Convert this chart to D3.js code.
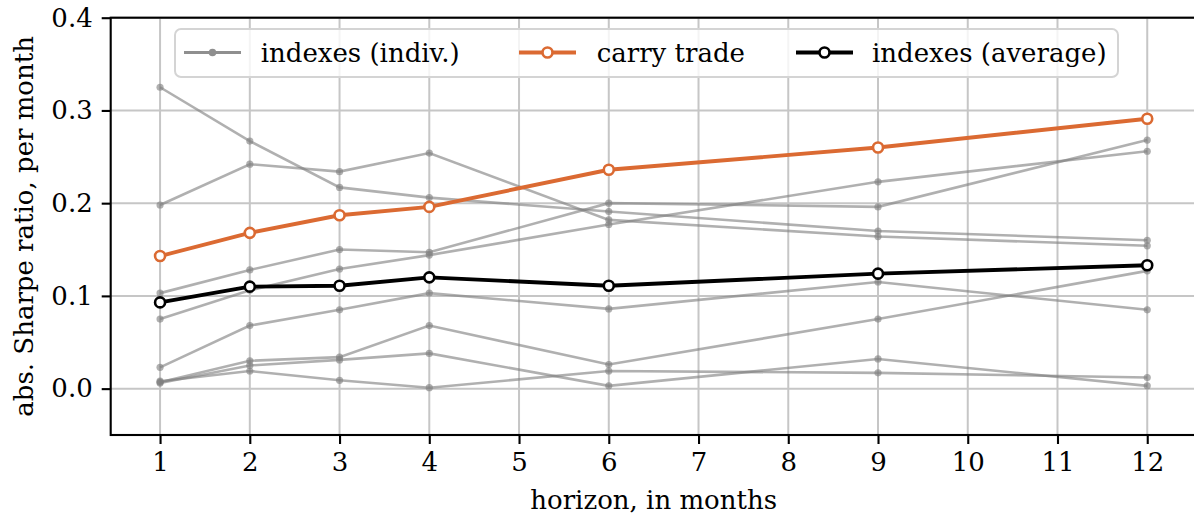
<!DOCTYPE html>
<html>
<head>
<meta charset="utf-8">
<script src="https://cdn.jsdelivr.net/npm/d3@7"></script>
<style>
  html, body { margin: 0; padding: 0; background: #fff; }
  svg { display: block; font-family: "DejaVu Serif", serif; }
</style>
</head>
<body>
<svg id="chart" width="1194" height="518"></svg>
<script>
// Horizons (months) at which the Sharpe ratios are measured
const horizons = [1, 2, 3, 4, 6, 9, 12];

// Individual index series, absolute Sharpe ratio per month
const indexA = [0.325, 0.267, 0.217, 0.206, 0.191, 0.170, 0.160];
const indexB = [0.198, 0.242, 0.234, 0.254, 0.182, 0.164, 0.154];
const indexC = [0.103, 0.128, 0.150, 0.147, 0.200, 0.196, 0.268];
const indexD = [0.075, 0.106, 0.129, 0.144, 0.177, 0.223, 0.256];
const indexE = [0.023, 0.068, 0.085, 0.103, 0.086, 0.115, 0.085];
const indexF = [0.007, 0.030, 0.034, 0.068, 0.026, 0.075, 0.127];
const indexG = [0.006, 0.025, 0.031, 0.038, 0.003, 0.032, 0.003];
const indexH = [0.008, 0.019, 0.009, 0.001, 0.019, 0.017, 0.012];

// Carry trade and the average over indexes
const carryTrade = [0.143, 0.168, 0.187, 0.196, 0.236, 0.260, 0.291];
const indexAverage = [0.093, 0.110, 0.111, 0.120, 0.111, 0.124, 0.133];

// Axis ticks
const xTicks = [1, 2, 3, 4, 5, 6, 7, 8, 9, 10, 11, 12];
const yTicks = [0.0, 0.1, 0.2, 0.3, 0.4];

const legendLabels = ["indexes (indiv.)", "carry trade", "indexes (average)"];

const individual = [indexA, indexB, indexC, indexD, indexE, indexF, indexG, indexH];

const svg = d3.select("#chart");
const plotLeft = 110.7, plotRight = 1196.6, plotTop = 17.7, plotBottom = 435;

const x = d3.scaleLinear().domain([0.45, 12.55]).range([plotLeft, plotRight]);
const y = d3.scaleLinear().domain([-0.05, 0.4]).range([plotBottom, plotTop]);

const ORANGE = "#db6a32";
const FONT = 26;

// grid
const grid = svg.append("g");
grid.selectAll(".gx").data(xTicks).join("line")
  .attr("x1", d => x(d)).attr("x2", d => x(d))
  .attr("y1", plotTop).attr("y2", plotBottom)
  .attr("stroke", "#c6c6c6").attr("stroke-width", 2);
grid.selectAll(".gy").data(yTicks).join("line")
  .attr("x1", plotLeft).attr("x2", plotRight)
  .attr("y1", d => y(d)).attr("y2", d => y(d))
  .attr("stroke", "#c6c6c6").attr("stroke-width", 2);

const line = d3.line().x((d, i) => x(horizons[i])).y(d => y(d));

// individual indexes
const indiv = svg.append("g");
individual.forEach(s => {
  indiv.append("path").datum(s)
    .attr("d", line)
    .attr("fill", "none")
    .attr("stroke", "#808080")
    .attr("stroke-opacity", 0.62)
    .attr("stroke-width", 2.6);
  indiv.selectAll(null).data(s).join("circle")
    .attr("cx", (d, i) => x(horizons[i]))
    .attr("cy", d => y(d))
    .attr("r", 3.6)
    .attr("fill", "#808080")
    .attr("fill-opacity", 0.62);
});

// carry trade and average with hollow markers
function drawMain(series, color) {
  const g = svg.append("g");
  g.append("path").datum(series)
    .attr("d", line)
    .attr("fill", "none")
    .attr("stroke", color)
    .attr("stroke-width", 3.9)
    .attr("stroke-linejoin", "round");
  g.selectAll("circle").data(series).join("circle")
    .attr("cx", (d, i) => x(horizons[i]))
    .attr("cy", d => y(d))
    .attr("r", 5)
    .attr("fill", "#fff")
    .attr("stroke", color)
    .attr("stroke-width", 2.6);
}
drawMain(carryTrade, ORANGE);
drawMain(indexAverage, "#000");

// axes
const xAxis = svg.append("g")
  .attr("transform", `translate(0,${plotBottom})`)
  .call(d3.axisBottom(x).tickValues(xTicks).tickFormat(d3.format("d")).tickSize(9).tickPadding(9));
const yAxis = svg.append("g")
  .attr("transform", `translate(${plotLeft},0)`)
  .call(d3.axisLeft(y).tickValues(yTicks).tickFormat(d3.format(".1f")).tickSize(9).tickPadding(9));
[xAxis, yAxis].forEach(a => {
  a.select(".domain").remove();
  a.selectAll(".tick line").attr("stroke", "#000").attr("stroke-width", 2.1);
  a.selectAll(".tick text").attr("font-family", "DejaVu Serif").attr("font-size", FONT).attr("fill", "#000");
});

// spines (left, top, bottom; the right edge falls outside the canvas)
svg.append("rect")
  .attr("x", plotLeft).attr("y", plotTop)
  .attr("width", plotRight - plotLeft).attr("height", plotBottom - plotTop)
  .attr("fill", "none").attr("stroke", "#000").attr("stroke-width", 2.1);

// axis titles
svg.append("text")
  .attr("x", (plotLeft + plotRight) / 2).attr("y", 509)
  .attr("text-anchor", "middle").attr("font-size", FONT)
  .text("horizon, in months");
svg.append("text")
  .attr("transform", `translate(33,${(plotTop + plotBottom) / 2}) rotate(-90)`)
  .attr("text-anchor", "middle").attr("font-size", FONT)
  .text("abs. Sharpe ratio, per month");

// legend
const legend = svg.append("g");
legend.append("rect")
  .attr("x", 175).attr("y", 29).attr("width", 943).attr("height", 48)
  .attr("rx", 6).attr("ry", 6)
  .attr("fill", "#fff").attr("fill-opacity", 0.8)
  .attr("stroke", "#d4d4d4").attr("stroke-width", 2);

const legendItems = [
  { label: legendLabels[0], x0: 184, tx: 260.7, color: "#8f8f8f", type: "dot" },
  { label: legendLabels[1], x0: 519, tx: 596.7, color: ORANGE, type: "ring" },
  { label: legendLabels[2], x0: 796, tx: 872, color: "#000", type: "ring" }
];
const ly = 52.5;
legendItems.forEach(it => {
  legend.append("line")
    .attr("x1", it.x0).attr("x2", it.x0 + 57)
    .attr("y1", ly).attr("y2", ly)
    .attr("stroke", it.color).attr("stroke-width", it.type === "dot" ? 2.8 : 3.9);
  if (it.type === "dot") {
    legend.append("circle").attr("cx", it.x0 + 28.5).attr("cy", ly).attr("r", 3.8)
      .attr("fill", it.color);
  } else {
    legend.append("circle").attr("cx", it.x0 + 28.5).attr("cy", ly).attr("r", 5)
      .attr("fill", "#fff").attr("stroke", it.color).attr("stroke-width", 2.6);
  }
  legend.append("text")
    .attr("x", it.tx).attr("y", ly + 9.5)
    .attr("font-size", FONT)
    .text(it.label);
});
</script>
</body>
</html>
